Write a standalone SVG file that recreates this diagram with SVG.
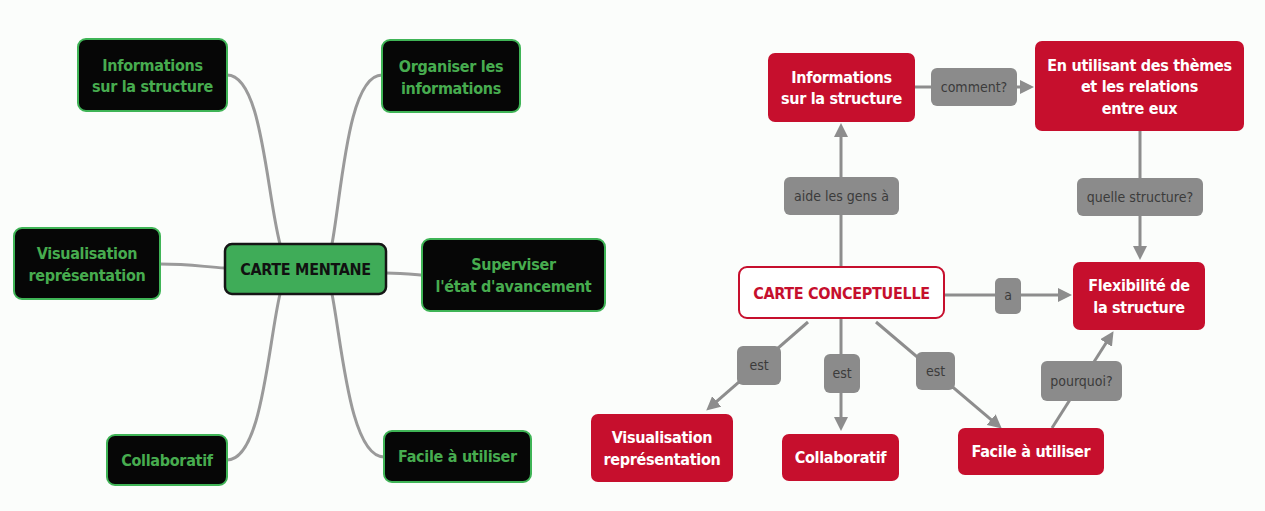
<svg xmlns="http://www.w3.org/2000/svg" width="1265" height="511" viewBox="0 0 1265 511">
  <style>
    .mm rect { fill: #060606; stroke: #3fb456; stroke-width: 2; }
    .mm text { fill: #47ac4f; }
    .t { font-family: "DejaVu Sans Condensed", "Liberation Sans", sans-serif; font-weight: bold; font-size: 16px; letter-spacing: -0.3px; text-anchor: middle; }
    .cm rect { fill: #c60f2d; }
    .cm text { fill: #ffffff; }
    .lbl rect { fill: #8b8b8b; }
    .lbl text { fill: #3b3b3b; font-family: "DejaVu Sans Condensed", sans-serif; font-size: 14px; text-anchor: middle; }
    .branch { fill: none; stroke: #9a9a9a; stroke-width: 3; stroke-linecap: round; }
    .link { fill: none; stroke: #8d8d8d; stroke-width: 3; marker-end: url(#head); }
  </style>
  <defs>
    <marker id="head" markerUnits="userSpaceOnUse" markerWidth="14" markerHeight="14" viewBox="0 0 14 14" refX="5" refY="7" orient="auto">
      <path d="M0,0 L14,7 L0,14 z" fill="#8d8d8d"/>
    </marker>
  </defs>

  <rect x="0" y="0" width="1265" height="511" fill="#fbfdfb"/>

  <!-- mind map branches -->
  <g id="mind-branches">
    <path class="branch" d="M227,75 C262,75 266,190 280,244"/>
    <path class="branch" d="M382,75 C348,75 342,190 332,244"/>
    <path class="branch" d="M160,264 C190,264 205,267 225,268"/>
    <path class="branch" d="M386,273 C400,273 410,274 422,275"/>
    <path class="branch" d="M227,460 C262,460 268,345 280,294"/>
    <path class="branch" d="M384,457 C350,457 342,345 332,294"/>
  </g>

  <!-- mind map nodes -->
  <g id="mm-centre">
    <rect x="225" y="244" width="161" height="50" rx="7" fill="#3fac58" stroke="#151515" stroke-width="2.5"/>
    <text class="t" x="305.5" y="275" fill="#111">CARTE MENTANE</text>
  </g>
  <g id="mm-info" class="mm">
    <rect x="78" y="39" width="149" height="72" rx="8"/>
    <text class="t" x="152.5" y="71">Informations</text>
    <text class="t" x="152.5" y="92">sur la structure</text>
  </g>
  <g id="mm-organiser" class="mm">
    <rect x="382" y="40" width="138" height="72" rx="8"/>
    <text class="t" x="451" y="72">Organiser les</text>
    <text class="t" x="451" y="94">informations</text>
  </g>
  <g id="mm-visualisation" class="mm">
    <rect x="14" y="228" width="146" height="71" rx="8"/>
    <text class="t" x="87" y="259">Visualisation</text>
    <text class="t" x="87" y="281">représentation</text>
  </g>
  <g id="mm-superviser" class="mm">
    <rect x="422" y="239" width="183" height="72" rx="8"/>
    <text class="t" x="513.5" y="270">Superviser</text>
    <text class="t" x="513.5" y="292">l'état d'avancement</text>
  </g>
  <g id="mm-collaboratif" class="mm">
    <rect x="107" y="435" width="120" height="50" rx="8"/>
    <text class="t" x="167" y="466">Collaboratif</text>
  </g>
  <g id="mm-facile" class="mm">
    <rect x="384" y="431" width="147" height="51" rx="8"/>
    <text class="t" x="457.5" y="462">Facile à utiliser</text>
  </g>

  <!-- concept map links -->
  <g id="concept-links">
    <path class="link" d="M915,87 L1025,87"/>
    <path class="link" d="M841,267 L841,132"/>
    <path class="link" d="M1140,131 L1140,251"/>
    <path class="link" d="M944,295 L1063,295"/>
    <path class="link" d="M808,322 L713,404.7"/>
    <path class="link" d="M841,318 L841,422"/>
    <path class="link" d="M876,322 L994.9,422.8"/>
    <path class="link" d="M1052,428 L1108.7,338.8"/>
  </g>

  <!-- link labels -->
  <g id="lbl-comment" class="lbl">
    <rect x="931" y="68" width="86" height="38" rx="6"/>
    <text x="974" y="92">comment?</text>
  </g>
  <g id="lbl-aide" class="lbl">
    <rect x="784" y="177" width="115" height="38" rx="6"/>
    <text x="841.5" y="201">aide les gens à</text>
  </g>
  <g id="lbl-quelle" class="lbl">
    <rect x="1077" y="178" width="126" height="38" rx="6"/>
    <text x="1140" y="202">quelle structure?</text>
  </g>
  <g id="lbl-a" class="lbl">
    <rect x="995" y="278" width="26" height="36" rx="5"/>
    <text x="1008" y="300">a</text>
  </g>
  <g id="lbl-est-1" class="lbl">
    <rect x="737" y="346" width="44" height="39" rx="6"/>
    <text x="759" y="370">est</text>
  </g>
  <g id="lbl-est-2" class="lbl">
    <rect x="824" y="354" width="36" height="39" rx="6"/>
    <text x="842" y="378">est</text>
  </g>
  <g id="lbl-est-3" class="lbl">
    <rect x="916" y="352" width="39" height="38" rx="6"/>
    <text x="935.5" y="376">est</text>
  </g>
  <g id="lbl-pourquoi" class="lbl">
    <rect x="1041" y="361" width="81" height="40" rx="6"/>
    <text x="1081.5" y="386">pourquoi?</text>
  </g>

  <!-- concept map nodes -->
  <g id="cm-centre">
    <rect x="739" y="267" width="205" height="51" rx="8" fill="#ffffff" stroke="#c60f2d" stroke-width="2"/>
    <text class="t" x="841.5" y="299" fill="#c60f2d">CARTE CONCEPTUELLE</text>
  </g>
  <g id="cm-info" class="cm">
    <rect x="768" y="53" width="147" height="69" rx="7"/>
    <text class="t" x="841.5" y="83">Informations</text>
    <text class="t" x="841.5" y="104">sur la structure</text>
  </g>
  <g id="cm-themes" class="cm">
    <rect x="1035" y="41" width="209" height="90" rx="7"/>
    <text class="t" x="1139.5" y="71">En utilisant des thèmes</text>
    <text class="t" x="1139.5" y="92">et les relations</text>
    <text class="t" x="1139.5" y="114">entre eux</text>
  </g>
  <g id="cm-flexibilite" class="cm">
    <rect x="1073" y="262" width="132" height="68" rx="7"/>
    <text class="t" x="1139" y="291">Flexibilité de</text>
    <text class="t" x="1139" y="313">la structure</text>
  </g>
  <g id="cm-visualisation" class="cm">
    <rect x="591" y="414" width="142" height="68" rx="7"/>
    <text class="t" x="662" y="443">Visualisation</text>
    <text class="t" x="662" y="465">représentation</text>
  </g>
  <g id="cm-collaboratif" class="cm">
    <rect x="782" y="434" width="117" height="47" rx="7"/>
    <text class="t" x="840.5" y="463">Collaboratif</text>
  </g>
  <g id="cm-facile" class="cm">
    <rect x="958" y="428" width="146" height="47" rx="7"/>
    <text class="t" x="1031" y="457">Facile à utiliser</text>
  </g>
</svg>
